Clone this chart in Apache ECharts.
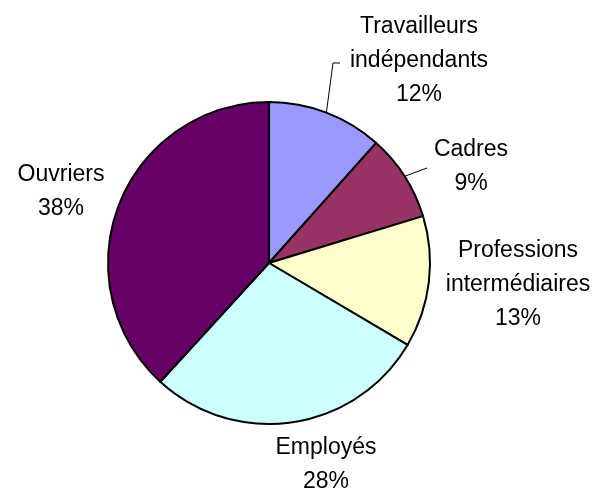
<!DOCTYPE html>
<html>
<head>
<meta charset="utf-8">
<script src="https://cdn.jsdelivr.net/npm/echarts@6/dist/echarts.min.js"></script>
<style>
html,body{margin:0;padding:0;background:#fff;}
#chart{width:599px;height:490px;}
</style>
</head>
<body>
<div id="chart"></div>
<script>
// Data (share of each category; labels show rounded %)
const categories = ['Travailleurs\nindépendants', 'Cadres', 'Professions\nintermédiaires', 'Employés', 'Ouvriers'];
const values = [11.6, 8.7, 13.2, 28.3, 38.2];
const colors = ['#9999FF', '#993366', '#FFFFCC', '#CCFFFF', '#660066'];
const showLeader = [true, true, false, false, false];

// Label placement (centre of text block) and leader line end points
const labelCenters = [[419, 61], [471, 167], [518, 285], [326, 465], [61, 192]];
const leaderBends = [[[333, 63], [340, 63]], [[427, 168]], null, null, null];

const chart = echarts.init(document.getElementById('chart'), null, {renderer: 'canvas'});
chart.setOption({
  backgroundColor: '#ffffff',
  animation: false,
  series: [{
    type: 'pie',
    center: [269, 263],
    radius: 161,
    startAngle: 90,
    clockwise: true,
    avoidLabelOverlap: false,
    itemStyle: { borderColor: '#000000', borderWidth: 2 },
    label: {
      show: true,
      position: 'outside',
      fontFamily: 'Liberation Sans, Arial, sans-serif',
      fontSize: 23,
      lineHeight: 34,
      color: '#000000',
      align: 'center',
      formatter: p => p.name + '\n' + Math.round(p.percent) + '%'
    },
    labelLine: { show: true, length: 10, length2: 10, lineStyle: { color: '#000000', width: 1 } },
    emphasis: { disabled: true },
    labelLayout: function (params) {
      const i = params.dataIndex;
      const c = labelCenters[i];
      const out = { x: c[0], y: c[1], align: 'center', verticalAlign: 'middle', hideOverlap: false, moveOverlap: false };
      if (leaderBends[i] && params.labelLinePoints && params.labelLinePoints.length) {
        out.labelLinePoints = [params.labelLinePoints[0]].concat(leaderBends[i]);
      }
      return out;
    },
    data: categories.map((name, i) => ({
      name: name,
      value: values[i],
      itemStyle: { color: colors[i] },
      labelLine: { show: showLeader[i] }
    }))
  }]
});
</script>
</body>
</html>
